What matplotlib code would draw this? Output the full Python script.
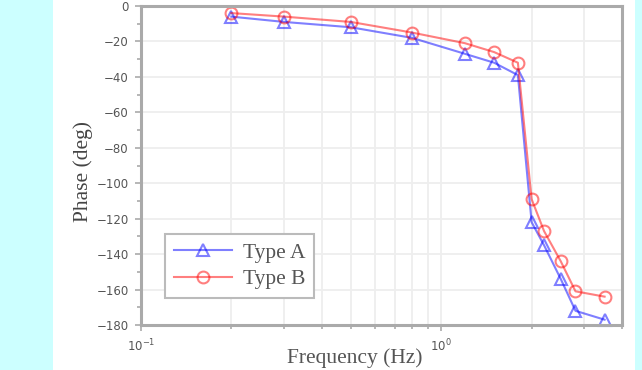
import matplotlib
matplotlib.use('Agg')
import matplotlib.pyplot as plt
from matplotlib.patches import Rectangle
from matplotlib.ticker import LogLocator, MultipleLocator, NullFormatter

freq = [0.2, 0.3, 0.5, 0.8, 1.2, 1.5, 1.8, 2.0, 2.2, 2.5, 2.8, 3.5]
phase_a = [-6, -9, -12, -18, -27, -32, -39, -122, -135, -154, -172, -177]
phase_b = [-4, -6, -9, -15, -21, -26, -32, -109, -127, -144, -161, -164]

serif = {'family': 'Liberation Serif'}
axis_grey = '#aaaaaa'

fig = plt.figure(figsize=(6.42, 3.70), dpi=100, facecolor='#ccffff')
fig.patches.append(Rectangle((53 / 642, 0), (635 - 53) / 642, 1, transform=fig.transFigure,
                             facecolor='white', edgecolor='none', zorder=-1))

ax = fig.add_axes([141 / 642, 45 / 370, 481 / 642, 319 / 370])
ax.set_zorder(1)
ax.set_xscale('log')
ax.set_xlim(0.1, 4)
ax.set_ylim(-180, 0)

ax.yaxis.set_major_locator(MultipleLocator(20))
ax.yaxis.set_minor_locator(MultipleLocator(10))
ax.xaxis.set_major_locator(LogLocator(base=10))
ax.xaxis.set_minor_locator(LogLocator(base=10, subs=range(2, 10)))
ax.xaxis.set_minor_formatter(NullFormatter())

ax.grid(True, which='major', axis='y', color='#eeeeee', lw=1.3)
ax.grid(True, which='both', axis='x', color='#eeeeee', lw=1.3)
ax.set_axisbelow(True)

for spine in ax.spines.values():
    spine.set_color(axis_grey)
    spine.set_linewidth(2.2)

ax.tick_params(which='both', direction='out', color=axis_grey, labelcolor='#555555', labelsize=8.5)
ax.tick_params(which='major', length=4, width=1.2, pad=5)
ax.tick_params(which='minor', length=3, width=1.2)

ax.plot(freq, phase_a, color='blue', alpha=0.5, lw=1.5, marker='^', ms=8.5,
        markerfacecolor='none', markeredgewidth=1.5, label='Type A', clip_on=False)
ax.plot(freq, phase_b, color='red', alpha=0.5, lw=1.5, marker='o', ms=8.5,
        markerfacecolor='none', markeredgewidth=1.5, label='Type B', clip_on=False)

ax.set_xlabel('Frequency (Hz)', fontsize=15.5, color='#555555', **serif)
ax.xaxis.set_label_coords(0.445, -0.105)
ax.xaxis.label.set_va('center')
ax.set_ylabel('Phase (deg)', fontsize=15.5, color='#444444', **serif)
ax.yaxis.set_label_coords(-0.10, 0.48)

leg = ax.legend(loc='lower left', bbox_to_anchor=(0.05, 0.085), prop={'family': 'Liberation Serif', 'size': 15.5},
                handlelength=2.7, borderaxespad=0, fancybox=False, framealpha=1,
                edgecolor='#bbbbbb', labelspacing=0.3, borderpad=0.4, handletextpad=0.5)
leg.get_frame().set_linewidth(1.5)
for t in leg.get_texts():
    t.set_color('#555555')

fig.savefig('out.png', dpi=100, facecolor=fig.get_facecolor())
